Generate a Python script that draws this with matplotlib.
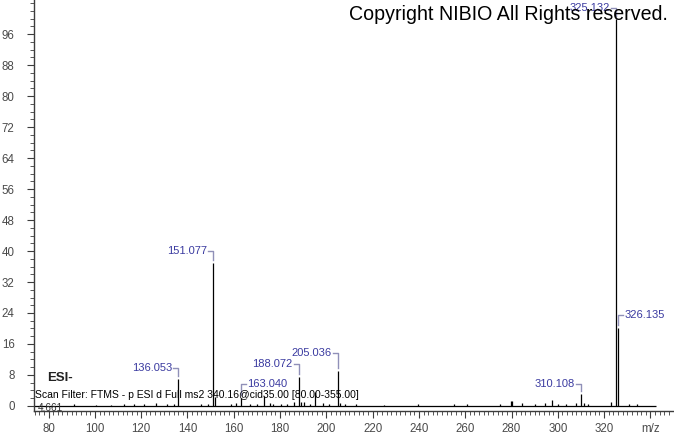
import matplotlib
matplotlib.use("Agg")
import matplotlib.pyplot as plt
from matplotlib.lines import Line2D
from matplotlib.transforms import IdentityTransform
from matplotlib.ticker import MultipleLocator, FixedLocator

plt.rcParams['font.family'] = ['Liberation Sans', 'DejaVu Sans']

# espectro MS2 (m/z, abundancia relativa)
mz = [91.0, 100.5, 107.0, 112.5, 117.0, 121.2, 126.5, 131.0, 134.1, 136.053,
      146.0, 149.0, 151.077, 152.08, 158.6, 161.0, 163.040, 167.2, 170.0, 173.2,
      175.5, 177.0, 180.5, 183.0, 186.1, 188.072, 189.07, 190.2, 193.0, 195.3,
      198.5, 201.0, 205.036, 206.04, 208.0, 213.0, 225.0, 239.8, 255.0, 260.8,
      275.0, 279.7, 280.4, 284.6, 290.0, 294.6, 297.5, 300.2, 303.5, 308.0,
      310.108, 311.11, 313.0, 323.1, 325.132, 326.135, 330.6, 334.0]
intensity = [0.4, 0.3, 0.3, 0.5, 0.4, 0.6, 0.8, 0.5, 0.6, 7.0,
             0.5, 0.6, 37.0, 2.2, 0.5, 0.8, 2.0, 0.6, 0.5, 2.5,
             0.8, 0.6, 0.5, 0.4, 0.9, 7.6, 1.0, 1.0, 0.6, 3.5,
             0.7, 0.6, 9.0, 0.8, 0.5, 0.4, 0.3, 0.5, 0.6, 0.5,
             0.5, 1.2, 1.4, 0.7, 0.5, 0.8, 1.5, 0.6, 0.5, 0.8,
             3.0, 0.8, 0.6, 1.0, 100.0, 20.2, 0.5, 0.4]

# picos etiquetados
label_mz = [136.053, 151.077, 163.040, 188.072, 205.036, 310.108, 325.132, 326.135]
label_int = [7.0, 37.0, 2.0, 7.6, 9.0, 3.0, 100.0, 20.2]
label_txt = ['136.053', '151.077', '163.040', '188.072', '205.036', '310.108', '325.132', '326.135']
label_side = ['l', 'l', 'r', 'l', 'l', 'l', 'l', 'r']
label_dy = [11, 12, 14, 13, 18, 10, 11, 13]

scan_start, scan_end = 73.7, 342.3
xticks = [80, 100, 120, 140, 160, 180, 200, 220, 240, 260, 280, 300, 320, 340]
xticklabels = ['80', '100', '120', '140', '160', '180', '200', '220', '240', '260',
               '280', '300', '320', 'm/z']
yticks = [0, 8, 16, 24, 32, 40, 48, 56, 64, 72, 80, 88, 96]

fig = plt.figure(figsize=(6.74, 4.34), dpi=100)
ax = fig.add_axes([34 / 674, 23 / 434, 640 / 674, 411 / 434])
ax.set_xlim(73.7, 350.2)
ax.set_ylim(-1.3, 104.8)

axcol = '#3c3c3c'
for s in ['top', 'right']:
    ax.spines[s].set_visible(False)
for s in ['left', 'bottom']:
    ax.spines[s].set_color(axcol)
    ax.spines[s].set_linewidth(1.0)

# linea base y picos
ax.hlines(0, scan_start, scan_end, color='black', lw=0.9)
ax.vlines(mz, 0, intensity, color='black', lw=0.9)

ax.xaxis.set_major_locator(FixedLocator(xticks))
ax.set_xticklabels(xticklabels)
ax.xaxis.set_minor_locator(MultipleLocator(2))
ax.yaxis.set_major_locator(FixedLocator(yticks))
ax.yaxis.set_minor_locator(MultipleLocator(2))
ax.tick_params(which='major', length=5, width=0.8, color=axcol, labelsize=8.3,
               labelcolor='#4a4a4a')
ax.tick_params(which='minor', length=3, width=0.6, color=axcol)
ax.tick_params(axis='y', pad=9)
ax.tick_params(axis='x', pad=4)

# etiquetas de picos con corchete
ident = IdentityTransform()
txtcol = '#3a3aa0'
brcol = '#9090b8'
for m, h, t, side, dy in zip(label_mz, label_int, label_txt, label_side, label_dy):
    x0, y0 = ax.transData.transform((m, h))
    yl = y0 + dy
    sgn = -1 if side == 'l' else 1
    fig.add_artist(Line2D([x0, x0, x0 + sgn * 5], [y0 + 3, yl, yl],
                          transform=ident, color=brcol, lw=1.0))
    fig.text(x0 + sgn * 6, yl, t, transform=ident, fontsize=8, color=txtcol,
             ha='right' if side == 'l' else 'left', va='center')

fig.text(668 / 674, 1 - 14 / 434, 'Copyright NIBIO All Rights reserved.',
         fontsize=14.1, color='black', ha='right', va='center')
fig.text(47 / 674, 1 - 378 / 434, 'ESI-', fontsize=9.5, fontweight='bold',
         color='#222222', ha='left', va='center')
fig.text(35 / 674, 1 - 395 / 434,
         'Scan Filter: FTMS - p ESI d Full ms2 340.16@cid35.00 [80.00-355.00]',
         fontsize=7.5, color='black', ha='left', va='center')
fig.text(38 / 674, 1 - 408 / 434, '4.661', fontsize=7.2, color='#333333',
         ha='left', va='center')

fig.savefig('out.png', dpi=100)
